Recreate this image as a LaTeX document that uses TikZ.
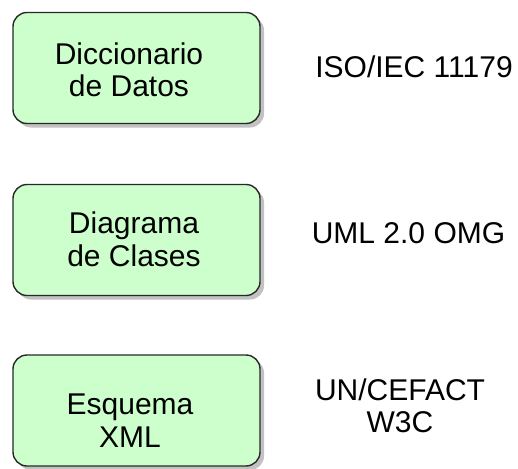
\documentclass[tikz,border=0pt]{standalone}
\usepackage{fontspec}
\setmainfont{Liberation Sans}
\usetikzlibrary{shadows}
\definecolor{cajaverde}{RGB}{204,255,204}
\definecolor{cajaborde}{RGB}{40,40,40}
\tikzset{
  caja/.style={draw=cajaborde, line width=1.4pt, fill=cajaverde, rounded corners=14pt,
    minimum width=247pt, minimum height=111pt, inner sep=0pt, outer sep=0pt,
    drop shadow={shadow xshift=4pt, shadow yshift=-4pt, fill=black!40, opacity=0.6}},
  texto/.style={align=center, font=\fontsize{30}{32.5}\selectfont, inner sep=0pt}
}
\begin{document}
\begin{tikzpicture}[x=1pt,y=-1pt]
        \useasboundingbox (0,0) rectangle (518,468);
        %draw the three boxes
        \node[caja] (dic) at (136.5,68) {};
        \node[caja] (dia) at (136.5,240) {};
        \node[caja] (esq) at (136.5,410.5) {};
        %text inside the boxes
        \node[texto] (dicT) at (129,70) {Diccionario\\de Datos};
        \node[texto] (diaT) at (134,239.5) {Diagrama\\de Clases};
        \node[texto] (esqT) at (130,420.5) {Esquema\\XML};
        %standards on the right
        \node[texto] (iso) at (414,67) {ISO/IEC 11179};
        \node[texto] (uml) at (408.5,233) {UML 2.0 OMG};
        \node[texto] (un) at (400,406) {UN/CEFACT\\W3C};
    \end{tikzpicture}
\end{document}
